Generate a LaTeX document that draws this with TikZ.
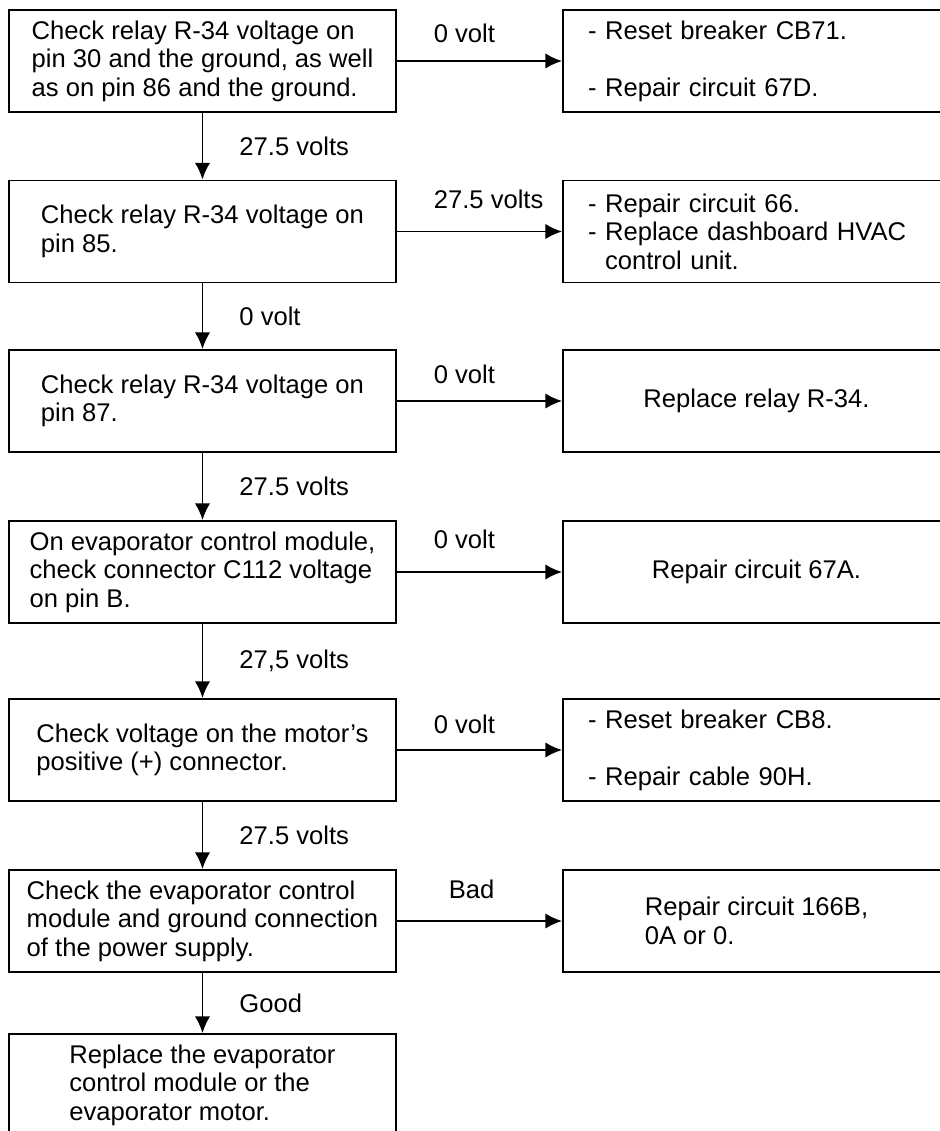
\documentclass[tikz,border=0pt]{standalone}
\usepackage{fontspec}
\setmainfont{Liberation Sans}
\usetikzlibrary{arrows.meta}

\begin{document}
\begin{tikzpicture}[inner sep =0mm,>={Latex[length=12.5pt,width=11.5pt]},line width=1.4pt,x=0.75pt,y=-0.75pt]
  \tikzset{every node/.style={font=\fontsize{19.2pt}{21.4pt}\selectfont},
    box/.style={draw,minimum width=290.25pt,minimum height=76.5pt,align=left},
    list/.style={box,text width=#1}}
  \useasboundingbox (0,0) rectangle (939,1131);
  \begin{scope}
    \xdef\lx{202.5}
    \xdef\rx{756.5}

    % checks on the left
    \node[box] (c_1) at (\lx,61) {Check relay R-34 voltage on\\pin 30 and the ground, as well\\as on pin 86 and the ground.};
    \node[box] (c_2) at (\lx,231.5) {Check relay R-34 voltage on\\pin 85.};
    \node[box] (c_3) at (\lx,401) {Check relay R-34 voltage on\\pin 87.};
    \node[box] (c_4) at (\lx,572) {On evaporator control module,\\check connector C112 voltage\\on pin B.};
    \node[box] (c_5) at (\lx,750) {Check voltage on the motor’s\\positive (+) connector.};
    \node[box] (c_6) at (\lx,921) {Check the evaporator control\\module and ground connection\\of the power supply.};
    \node[box] (c_7) at (\lx,1085) {Replace the evaporator\\control module or the\\evaporator motor.};

    % repairs on the right
    \node[list=252.75pt] (r_1) at (\rx,61) {- Reset breaker CB71.\\[21.4pt]- Repair circuit 67D.};
    \node[list=252.75pt] (r_2) at (\rx,231.5) {- Repair circuit 66.\\- Replace dashboard HVAC\\\phantom{- }control unit.};
    \node[box,align=center] (r_3) at (\rx,401) {Replace relay R-34.};
    \node[box,align=center] (r_4) at (\rx,572) {Repair circuit 67A.};
    \node[list=252.75pt] (r_5) at (\rx,750) {- Reset breaker CB8.\\[21.4pt]- Repair cable 90H.};
    \node[box] (r_6) at (\rx,921) {Repair circuit 166B,\\0A or 0.};

    \foreach \i/\j/\lab in {1/2/27.5 volts,2/3/0 volt,3/4/27.5 volts,4/5/{27,5 volts},5/6/27.5 volts,6/7/Good} {
      \draw[->] (c_\i) -- (c_\j) node[midway,anchor=west,xshift=27pt] (u_\i) {\lab};
    }
    \foreach \i/\dx/\dy/\lab in {1/27pt/13.5pt/0 volt,2/27pt/17.25pt/27.5 volts,3/27pt/13.5pt/0 volt,
      4/27pt/18pt/0 volt,5/27pt/12.75pt/0 volt,6/38.25pt/17.25pt/Bad} {
      \draw[->] (c_\i) -- (r_\i);
      \node[anchor=base west,xshift=\dx,yshift=\dy] (v_\i) at (c_\i.east) {\lab};
    }
  \end{scope}

\end{tikzpicture}
\end{document}
